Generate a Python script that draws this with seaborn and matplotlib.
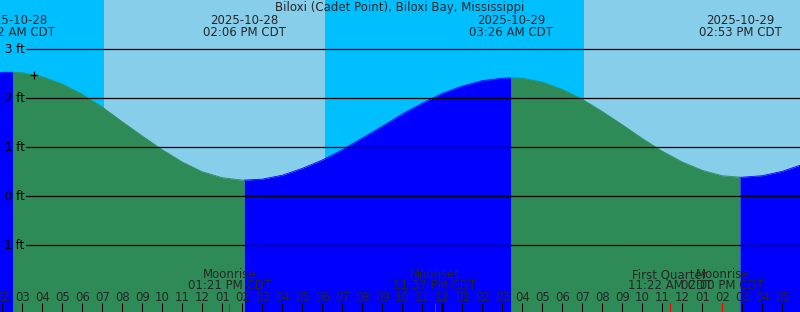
import numpy as np
import pandas as pd
import matplotlib
matplotlib.use("Agg")
import matplotlib.pyplot as plt
import matplotlib.transforms as mtransforms
import seaborn as sns

# ---------------- data (hours since 2025-10-28 00:00 CDT) ----------------
title = "Biloxi (Cadet Point), Biloxi Bay, Mississippi"

tide_hours = list(range(1, 43))
tide_ft = [2.44, 2.53, 2.52, 2.44, 2.29, 2.08, 1.82, 1.52, 1.23, 0.95,
           0.70, 0.50, 0.38, 0.33, 0.35, 0.43, 0.57, 0.74, 0.95, 1.19,
           1.43, 1.68, 1.90, 2.10, 2.25, 2.36, 2.41, 2.41, 2.33, 2.18,
           1.98, 1.73, 1.46, 1.18, 0.92, 0.70, 0.53, 0.42, 0.39, 0.42,
           0.51, 0.65]

extreme_hours = [2.53, 14.10, 27.433, 38.883]
extreme_ft = [2.53, 0.33, 2.42, 0.39]
extreme_dates = ["2025-10-28", "2025-10-28", "2025-10-29", "2025-10-29"]
extreme_times = ["02:32 AM CDT", "02:06 PM CDT", "03:26 AM CDT", "02:53 PM CDT"]

# sun: night until sunrise, day until sunset
sunrise_hours = [7.085, 31.085]
sunset_hours = [18.135]

moon_hours = [13.35, 23.617, 35.367, 38.0]
moon_names = ["Moonrise", "Moonset", "First Quarter", "Moonrise"]
moon_times = ["01:21 PM CDT", "11:37 PM CDT", "11:22 AM CDT", "02:00 PM CDT"]

now_hour, now_ft = 3.6, 2.47

y_levels = [-1, 0, 1, 2, 3]
y_labels = ["-1 ft", "0 ft", "1 ft", "2 ft", "3 ft"]

tick_hours = list(range(2, 42))
midnight_hours = [24]

# ---------------- style ----------------
NIGHT = "#00BFFF"
DAY = "#87CEEB"
FALL = "#2E8B57"
RISE = "#0000FF"

sns.set_style("white")
plt.rcParams["font.family"] = ["DejaVu Sans"]
FS = 8.5

X0, X1 = 1.885, 41.885
Y0, Y1 = -2.361, 4.006
H = 312.0

fig = plt.figure(figsize=(8, 3.12), dpi=100)
ax = fig.add_axes([0, 0, 1, 1])
ax.set_xlim(X0, X1)
ax.set_ylim(Y0, Y1)
ax.axis("off")

# day / night background
edges = sorted([X0] + sunrise_hours + sunset_hours + [X1])
is_day = False
for a, b in zip(edges[:-1], edges[1:]):
    ax.axvspan(a, b, color=DAY if is_day else NIGHT, lw=0, zorder=0)
    is_day = not is_day

# tide curve merged with extremes
df = pd.DataFrame({"h": tide_hours + extreme_hours, "ft": tide_ft + extreme_ft})
df = df.sort_values("h").drop_duplicates("h").reset_index(drop=True)
bounds = [X0 - 1] + extreme_hours + [X1 + 1]
for a, b in zip(bounds[:-1], bounds[1:]):
    seg = df[(df.h >= a) & (df.h <= b)]
    if len(seg) < 2:
        continue
    rising = seg.ft.iloc[-1] > seg.ft.iloc[0]
    col = RISE if rising else FALL
    ax.fill_between(seg.h, seg.ft, Y0 - 1, color=col, lw=0, zorder=1)
    sns.lineplot(x=seg.h.values, y=seg.ft.values, color=col, lw=0.6, ax=ax,
                 zorder=1.5, legend=False)

# horizontal levels with labels
yt = mtransforms.offset_copy(
    mtransforms.blended_transform_factory(ax.transAxes, ax.transData),
    fig=fig, y=-3.5, units="dots")
for lv, lb in zip(y_levels, y_labels):
    ax.axhline(lv, xmin=26 / 800, xmax=1, color="black", lw=0.9, zorder=3)
    ax.text(24.5 / 800, lv, lb, transform=yt, ha="right", va="baseline",
            fontsize=FS, color="black", zorder=4)

bt = mtransforms.blended_transform_factory(ax.transData, ax.transAxes)

# hour ticks
ax.vlines(tick_hours, 0, 9 / H, transform=bt, color="black", lw=0.75, zorder=3)
ax.vlines(midnight_hours, 0, 9 / H, transform=bt, color="black", lw=2.2, zorder=3)
ax.vlines(moon_hours, 0, 9 / H, transform=bt, color="red", lw=0.75, zorder=3.5)
for h in tick_hours:
    ax.text(h, 1 - 301 / H, f"{(h - 1) % 12 + 1:02d}", transform=bt,
            ha="center", va="baseline", fontsize=FS, zorder=4)

# moon events
for h, n, t in zip(moon_hours, moon_names, moon_times):
    ax.text(h, 1 - 278 / H, n, transform=bt, ha="center", va="baseline", fontsize=FS, zorder=4)
    ax.text(h, 1 - 289 / H, t, transform=bt, ha="center", va="baseline", fontsize=FS, zorder=4)

# extreme labels at top
for h, d, t in zip(extreme_hours, extreme_dates, extreme_times):
    ax.text(h, 1 - 24 / H, d, transform=bt, ha="center", va="baseline", fontsize=FS, zorder=4)
    ax.text(h, 1 - 35.7 / H, t, transform=bt, ha="center", va="baseline", fontsize=FS, zorder=4)

ax.text(0.5, 1 - 11.3 / H, title, transform=ax.transAxes, ha="center", va="baseline",
        fontsize=FS, zorder=4)

# now marker
ax.plot([now_hour], [now_ft], marker="+", color="black", ms=6, mew=0.9, zorder=4)

fig.savefig("out.png", dpi=100)
